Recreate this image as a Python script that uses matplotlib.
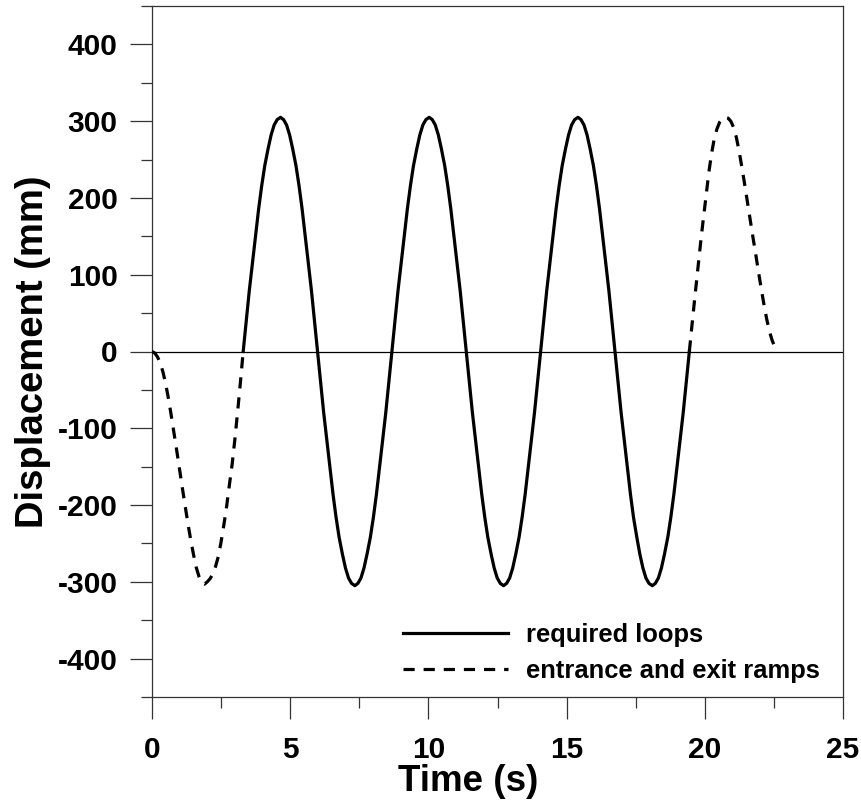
import matplotlib
matplotlib.use("Agg")
import matplotlib.pyplot as plt
from matplotlib.ticker import MultipleLocator

plt.rcParams["font.family"] = ["Liberation Sans", "DejaVu Sans"]
plt.rcParams["font.weight"] = "bold"
plt.rcParams["axes.unicode_minus"] = False

# required loops (3 full cycles)
loop_t = [3.30, 3.41, 3.52, 3.64, 3.75, 3.86, 3.97, 4.08, 4.20, 4.31, 4.42, 4.53,
          4.65, 4.76, 4.87, 4.98, 5.09, 5.21, 5.32, 5.43, 5.54, 5.65, 5.77, 5.88,
          5.99, 6.10, 6.21, 6.33, 6.44, 6.55, 6.66, 6.77, 6.89, 7.00, 7.11, 7.22,
          7.34, 7.45, 7.56, 7.67, 7.78, 7.90, 8.01, 8.12, 8.23, 8.34, 8.46, 8.57,
          8.68, 8.79, 8.90, 9.02, 9.13, 9.24, 9.35, 9.46, 9.58, 9.69, 9.80, 9.91,
          10.03, 10.14, 10.25, 10.36, 10.47, 10.59, 10.70, 10.81, 10.92, 11.03, 11.15, 11.26,
          11.37, 11.48, 11.59, 11.71, 11.82, 11.93, 12.04, 12.15, 12.27, 12.38, 12.49, 12.60,
          12.72, 12.83, 12.94, 13.05, 13.16, 13.28, 13.39, 13.50, 13.61, 13.72, 13.84, 13.95,
          14.06, 14.17, 14.28, 14.40, 14.51, 14.62, 14.73, 14.84, 14.96, 15.07, 15.18, 15.29,
          15.41, 15.52, 15.63, 15.74, 15.85, 15.97, 16.08, 16.19, 16.30, 16.41, 16.53, 16.64,
          16.75, 16.86, 16.97, 17.09, 17.20, 17.31, 17.42, 17.54, 17.65, 17.76, 17.87, 17.98,
          18.10, 18.21, 18.32, 18.43, 18.54, 18.66, 18.77, 18.88, 18.99, 19.10, 19.22, 19.33,
          19.44]
loop_mm = [0, 40, 79, 117, 152, 186, 216, 242, 264, 282, 295, 302,
           305, 302, 295, 282, 264, 242, 216, 186, 152, 117, 79, 40,
           0, -40, -79, -117, -152, -186, -216, -242, -264, -282, -295, -302,
           -305, -302, -295, -282, -264, -242, -216, -186, -152, -117, -79, -40,
           0, 40, 79, 117, 152, 186, 216, 242, 264, 282, 295, 302,
           305, 302, 295, 282, 264, 242, 216, 186, 152, 117, 79, 40,
           0, -40, -79, -117, -152, -186, -216, -242, -264, -282, -295, -302,
           -305, -302, -295, -282, -264, -242, -216, -186, -152, -117, -79, -40,
           0, 40, 79, 117, 152, 186, 216, 242, 264, 282, 295, 302,
           305, 302, 295, 282, 264, 242, 216, 186, 152, 117, 79, 40,
           0, -40, -79, -117, -152, -186, -216, -242, -264, -282, -295, -302,
           -305, -302, -295, -282, -264, -242, -216, -186, -152, -117, -79, -40,
           0]

# entrance ramp
ramp_in_t = [0.0, 0.1, 0.2, 0.3, 0.4, 0.5, 0.6, 0.7, 0.8, 0.9, 1.0, 1.1, 1.2, 1.3,
             1.4, 1.5, 1.6, 1.7, 1.8, 1.9, 2.0, 2.1, 2.2, 2.3, 2.4, 2.5, 2.6, 2.7,
             2.8, 2.9, 3.0, 3.1, 3.2, 3.3]
ramp_in_mm = [0, -2, -7, -15, -27, -43, -62, -84, -107, -130, -154, -178, -201, -224,
              -245, -264, -281, -293, -301, -303, -300, -296, -290, -280, -267, -248, -226, -202,
              -174, -147, -114, -78, -40, 0]

# exit ramp
ramp_out_t = [19.44, 19.54, 19.64, 19.74, 19.84, 19.94, 20.04, 20.14, 20.24, 20.34,
              20.44, 20.54, 20.64, 20.74, 20.84, 20.94, 21.04, 21.14, 21.24, 21.34,
              21.44, 21.54, 21.64, 21.74, 21.84, 21.94, 22.04, 22.14, 22.24, 22.34,
              22.44, 22.52]
ramp_out_mm = [0, 36, 71, 105, 139, 171, 201, 232, 257, 277,
               290, 299, 304, 305, 304, 300, 292, 279, 261, 240,
               218, 195, 172, 149, 127, 104, 82, 61, 42, 26,
               14, 7]

fig = plt.figure(figsize=(8.62, 8.00), dpi=100)
ax = fig.add_axes([0.1763, 0.12875, 0.8017, 0.86375])

ax.axhline(0, color="black", lw=0.9, zorder=1)
ax.plot(loop_t, loop_mm, color="black", lw=2.3, label="required loops", zorder=3)
ax.plot(ramp_in_t, ramp_in_mm, color="black", lw=2.3, ls=(0, (3.5, 2.8)),
        label="entrance and exit ramps", zorder=3)
ax.plot(ramp_out_t, ramp_out_mm, color="black", lw=2.3, ls=(0, (3.5, 2.8)), zorder=3)

ax.set_xlim(0, 25)
ax.set_ylim(-450, 450)
ax.xaxis.set_major_locator(MultipleLocator(5))
ax.xaxis.set_minor_locator(MultipleLocator(2.5))
ax.yaxis.set_major_locator(MultipleLocator(100))
ax.yaxis.set_minor_locator(MultipleLocator(50))

for s in ax.spines.values():
    s.set_linewidth(0.9)
    s.set_color("#333333")

ax.tick_params(which="major", direction="out", length=15.8, width=0.9,
               color="#333333", labelsize=21.5, top=False, right=False)
ax.tick_params(axis="y", which="major", pad=9)
ax.tick_params(axis="x", which="major", pad=12)
ax.tick_params(which="minor", direction="out", length=7.9, width=0.9,
               color="#333333", top=False, right=False)

ax.set_xlabel("Time (s)", fontsize=26.5, fontweight="bold")
ax.set_ylabel("Displacement (mm)", fontsize=27.5, fontweight="bold")
ax.xaxis.set_label_coords(0.458, -0.097)
ax.yaxis.set_label_coords(-0.146, 0.5)

ax.legend(loc="upper left", bbox_to_anchor=(0.4675, 0.221),
          bbox_transform=fig.transFigure, frameon=False, fontsize=18.4,
          handlelength=4.1, handletextpad=0.7, labelspacing=0.45,
          borderpad=0, borderaxespad=0)

fig.savefig("out.png", dpi=100)
